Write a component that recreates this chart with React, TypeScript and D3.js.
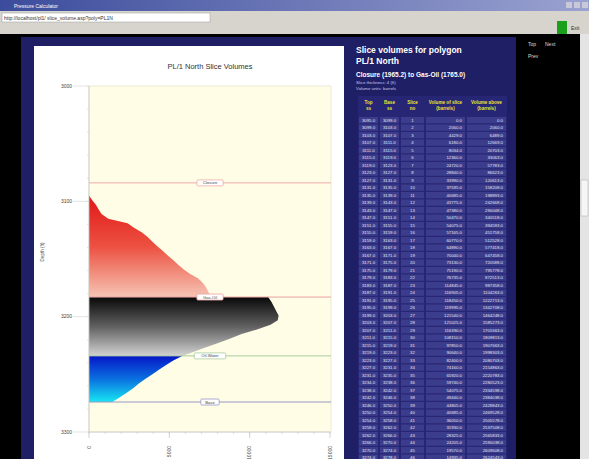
import React from 'react';
import * as d3 from 'd3';

// Slice volume data (depth top of slice, slice volume), by fluid zone
const gasDepth = [3095, 3099, 3103, 3107, 3111, 3115, 3119, 3123, 3127, 3131, 3135, 3139, 3143, 3147, 3151, 3155, 3159, 3163, 3167, 3171, 3175, 3179, 3183];
const gasVol = [0, 200, 430, 600, 780, 1200, 2400, 2800, 3300, 3650, 3950, 4250, 4600, 4900, 5250, 5550, 5900, 6300, 6800, 7100, 7300, 7450, 7600];
const oilDepth = [3183, 3187, 3191, 3195, 3199, 3203, 3207, 3211, 3215, 3219, 3223, 3227, 3231, 3234];
const oilVol = [11150, 11350, 11500, 11650, 11800, 11750, 11300, 10500, 9500, 8800, 8000, 7200, 6400, 5800];
const waterDepth = [3234, 3238, 3242, 3246, 3250, 3254, 3258, 3262, 3266, 3270, 3274];
const waterVol = [5800, 5250, 4800, 4350, 3950, 3500, 3100, 2750, 2350, 1900, 1450];

const yTicks = [3000, 3100, 3200, 3300];
const xTicks = [0, 5000, 10000, 15000];
const contactNames = ['Closure', 'Gas-Oil', 'Oil-Water', 'Base'];
const contactDepths = [3084, 3183, 3234, 3274];
const contactColors = ['#eeaaaa', '#e8a0a0', '#a8cca0', '#9898c4'];
const sliceThickness = 4;

const FONT = 'Liberation Sans, Arial, sans-serif';

export default function App() {
  const y = d3.scaleLinear().domain([3000, 3300]).range([86, 432]);
  const x = d3.scaleLinear().domain([0, 15000]).range([89, 330]);

  const zones = [
    { id: 'gas', depth: gasDepth, vol: gasVol, stops: ['#e01818', '#ec5040', '#f6c4b4'] },
    { id: 'oil', depth: oilDepth, vol: oilVol, stops: ['#080808', '#606060', '#d2d2d2'] },
    { id: 'wat', depth: waterDepth, vol: waterVol, stops: ['#0616c8', '#0a70e0', '#18e6f2'] },
  ];

  const area = d3
    .area<[number, number]>()
    .y((d) => y(d[0]))
    .x0(() => x(0))
    .x1((d) => x(d[1]));

  // table rows from slices
  const rows: string[][] = [];
  let cum = 0;
  let n = 0;
  zones.forEach((z) => {
    z.depth.forEach((d, i) => {
      if (i === z.depth.length - 1 && z.id !== 'wat') return;
      n += 1;
      cum += z.vol[i];
      rows.push([
        d.toFixed(1),
        (d + sliceThickness).toFixed(1),
        String(n),
        (z.vol[i] * 10.3).toFixed(1),
        (cum * 10.3).toFixed(1),
      ]);
    });
  });

  const minorX = d3.range(0, 15001, 1000);
  const minorY = d3.range(3000, 3301, 20);

  const colX = [358, 379, 400, 425, 466, 507];
  const rowH = 7.5;
  const rowTop = 117;

  return (
    <svg width={589} height={459} style={{ position: 'absolute', left: 0, top: 0 }} fontFamily={FONT}>
      <defs>
        <linearGradient id="tbar" x1="0" x2="1" y1="0" y2="0">
          <stop offset="0" stopColor="#3c4c9c" />
          <stop offset="1" stopColor="#9aa2d0" />
        </linearGradient>
        {zones.map((z) => (
          <linearGradient
            key={z.id}
            id={'g-' + z.id}
            gradientUnits="userSpaceOnUse"
            x1={0}
            x2={0}
            y1={y(z.depth[0])}
            y2={y(z.depth[z.depth.length - 1])}
          >
            <stop offset="0" stopColor={z.stops[0]} />
            <stop offset="0.5" stopColor={z.stops[1]} />
            <stop offset="1" stopColor={z.stops[2]} />
          </linearGradient>
        ))}
      </defs>

      {/* window frame */}
      <rect x={0} y={0} width={589} height={459} fill="#000" />
      <rect x={0} y={0} width={589} height={11} fill="url(#tbar)" />
      <text x={14} y={8} fontSize={5} fill="#fff">Pressure Calculator</text>
      <rect x={566} y={2} width={6} height={6} fill="#c8c8d8" />
      <rect x={574} y={2} width={6} height={6} fill="#c8c8d8" />
      <rect x={582} y={2} width={6} height={6} fill="#c8c8d8" />
      <rect x={0} y={11} width={589} height={23} fill="#d6d4cc" />
      <rect x={2} y={13} width={208} height={9} fill="#fff" stroke="#9a9a9a" strokeWidth={0.5} />
      <text x={4} y={20} fontSize={5} fill="#333">http://localhost/pl1/  slice_volume.asp?poly=PL1N</text>
      <rect x={557} y={21} width={10} height={13} fill="#1aa01a" />
      <text x={571} y={30} fontSize={5} fill="#333">Exit</text>

      {/* scrollbar */}
      <rect x={580} y={34} width={9} height={425} fill="#e4e4e4" />
      <rect x={581} y={180} width={7} height={36} fill="#f6f6f6" stroke="#aaa" strokeWidth={0.5} />

      {/* right nav text */}
      <text x={528} y={46} fontSize={5} fill="#ddd">Top</text>
      <text x={545} y={46} fontSize={5} fill="#ddd">Next</text>
      <text x={528} y={58} fontSize={5} fill="#ddd">Prev</text>

      {/* navy panel */}
      <rect x={21} y={37} width={495} height={422} fill="#1f1f66" />
      <rect x={34} y={46} width={310} height={413} fill="#fff" />

      {/* chart */}
      <text x={210} y={69} fontSize={7.5} textAnchor="middle" fill="#333">PL/1 North Slice Volumes</text>
      <rect x={x(0)} y={y(3000)} width={x(15000) - x(0) + 1} height={y(3300) - y(3000)} fill="#fffde6" stroke="#e2e0cc" strokeWidth={0.7} />

      {zones.map((z) => (
        <path
          key={z.id}
          d={area(z.depth.map((d, i) => [d, z.vol[i]] as [number, number])) || ''}
          fill={`url(#g-${z.id})`}
        />
      ))}

      {contactNames.map((c, i) => {
        const yy = y(contactDepths[i]);
        const w = c.length * 2.6 + 8;
        return (
          <g key={c}>
            <line x1={x(0)} x2={x(15000) + 1} y1={yy} y2={yy} stroke={contactColors[i]} strokeWidth={1} />
            <rect x={210 - w / 2} y={yy - 3} width={w} height={6} fill="#fff" stroke={contactColors[i]} strokeWidth={0.8} rx={1} />
            <text x={210} y={yy + 1.6} fontSize={4.2} textAnchor="middle" fill="#444">{c}</text>
          </g>
        );
      })}

      {/* y axis */}
      <line x1={x(0)} x2={x(0)} y1={y(3000)} y2={y(3300)} stroke="#c8c8c8" strokeWidth={0.8} />
      {minorY.map((v) => (
        <line key={'my' + v} x1={x(0) - 2} x2={x(0)} y1={y(v)} y2={y(v)} stroke="#d0d0d0" strokeWidth={0.6} />
      ))}
      {yTicks.map((v) => (
        <g key={'yt' + v}>
          <line x1={73} x2={x(0)} y1={y(v)} y2={y(v)} stroke="#d8d8d8" strokeWidth={0.7} />
          <text x={72} y={y(v) + 1.8} fontSize={5} textAnchor="end" fill="#444">{v}</text>
        </g>
      ))}
      <text transform={`translate(44,252) rotate(-90)`} fontSize={4.5} textAnchor="middle" fill="#555">Depth (ft)</text>

      {/* x axis */}
      <line x1={x(0)} x2={x(15000)} y1={y(3300)} y2={y(3300)} stroke="#c8c8c8" strokeWidth={0.8} />
      {minorX.map((v) => (
        <line key={'mx' + v} x1={x(v)} x2={x(v)} y1={y(3300)} y2={y(3300) + 2} stroke="#c8c8c8" strokeWidth={0.6} />
      ))}
      {xTicks.map((v) => (
        <g key={'xt' + v}>
          <line x1={x(v)} x2={x(v)} y1={y(3300)} y2={y(3300) + 6} stroke="#c0c0c0" strokeWidth={0.7} />
          <text transform={`translate(${x(v) + 1.8},${446}) rotate(-90)`} fontSize={5} textAnchor="end" fill="#444">{v}</text>
        </g>
      ))}

      {/* table panel */}
      <text x={356} y={53} fontSize={8.5} fontWeight="bold" fill="#fff">Slice volumes for polygon</text>
      <text x={356} y={64} fontSize={8.5} fontWeight="bold" fill="#fff">PL/1 North</text>
      <text x={356} y={77} fontSize={6.5} fontWeight="bold" fill="#fff">Closure (1965.2) to Gas-Oil (1765.0)</text>
      <text x={356} y={84} fontSize={4.3} fill="#c8c8f0">Slice thickness: {sliceThickness} (ft)</text>
      <text x={356} y={90} fontSize={4.3} fill="#c8c8f0">Volume units: barrels</text>

      <rect x={colX[0]} y={96} width={colX[5] - colX[0]} height={363} fill="#262674" />
      {[
        ['Top', 'ss'],
        ['Base', 'ss'],
        ['Slice', 'no'],
        ['Volume of slice', '(barrels)'],
        ['Volume above', '(barrels)'],
      ].map((h, i) => (
        <g key={'h' + i}>
          <text x={(colX[i] + colX[i + 1]) / 2} y={104} fontSize={4.6} fontWeight="bold" textAnchor="middle" fill="#e8e432">{h[0]}</text>
          <text x={(colX[i] + colX[i + 1]) / 2} y={110} fontSize={4.6} fontWeight="bold" textAnchor="middle" fill="#e8e432">{h[1]}</text>
        </g>
      ))}
      {rows.map((r, ri) => {
        const ry = rowTop + ri * rowH;
        if (ry > 459) return null;
        return (
          <g key={'r' + ri}>
            {r.map((cell, ci) => (
              <rect key={'c' + ci} x={colX[ci] + 1} y={ry} width={colX[ci + 1] - colX[ci] - 2} height={rowH - 1.2} fill="#3c3c8c" />
            ))}
            {r.map((cell, ci) => {
              const right = ci >= 3;
              return (
                <text
                  key={'t' + ci}
                  x={right ? colX[ci + 1] - 4 : (colX[ci] + colX[ci + 1]) / 2}
                  y={ry + 4.8}
                  fontSize={4.3}
                  textAnchor={right ? 'end' : 'middle'}
                  fill="#e6e6f4"
                >
                  {cell}
                </text>
              );
            })}
          </g>
        );
      })}
    </svg>
  );
}
